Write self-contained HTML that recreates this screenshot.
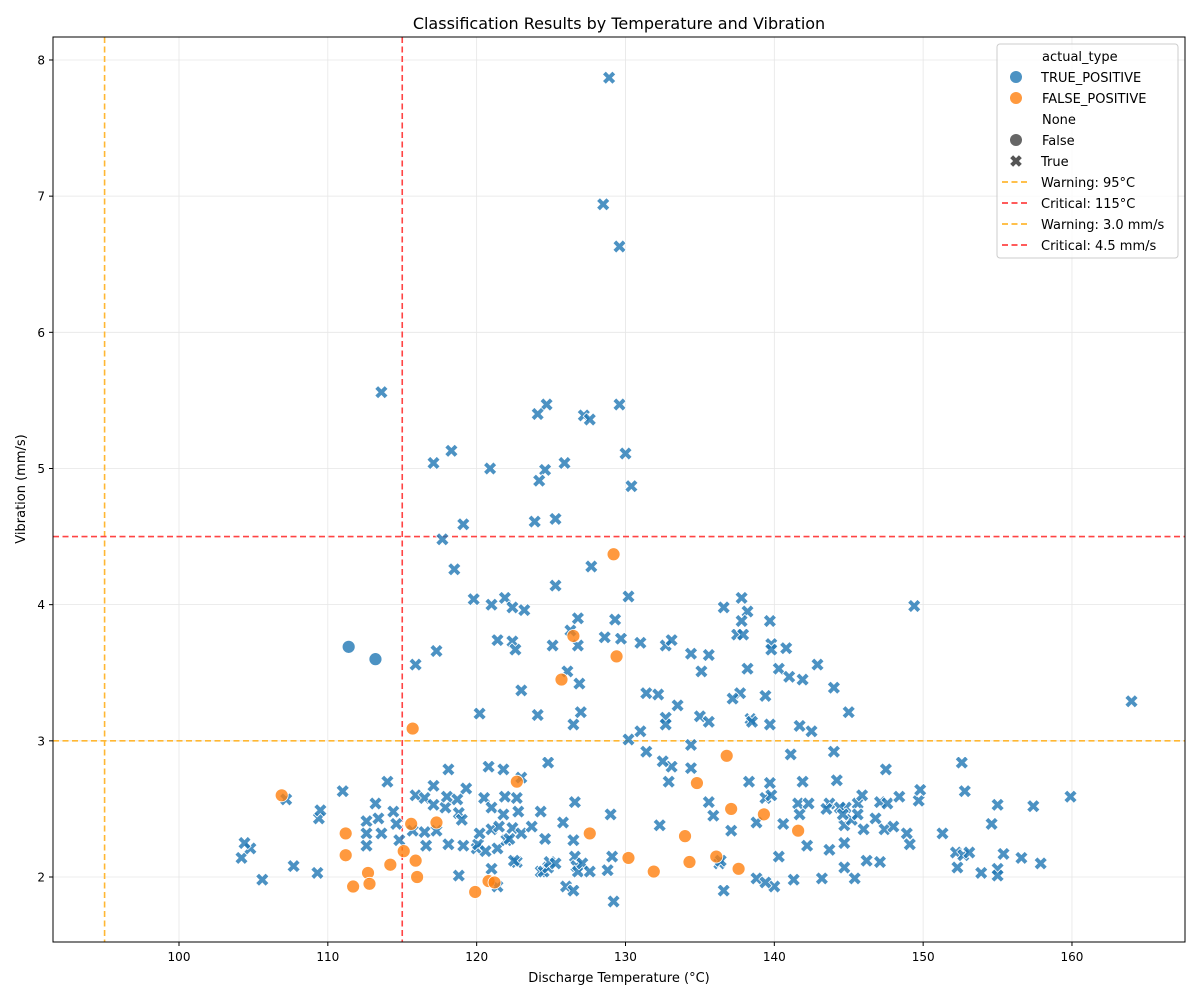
<!DOCTYPE html>
<html><head><meta charset="utf-8"><style>
body{margin:0;background:#fff;font-family:"DejaVu Sans","Liberation Sans",sans-serif;}
svg text{font-family:"DejaVu Sans","Liberation Sans",sans-serif;fill:#000;}
</style></head><body>
<svg id="chart" width="1200" height="1000" viewBox="0 0 1200 1000" xmlns="http://www.w3.org/2000/svg">
<rect width="1200" height="1000" fill="#fff"/>
<text x="619" y="29" font-size="16" text-anchor="middle">Classification Results by Temperature and Vibration</text>
<g id="grid"></g>
<g id="ticks"></g>
<g id="thresholds"></g>
<g id="marks"></g>
<rect x="53" y="37" width="1132" height="905" fill="none" stroke="#000" stroke-width="1"/>
<text x="619" y="982" font-size="13" text-anchor="middle">Discharge Temperature (°C)</text>
<text x="25" y="489" font-size="13" text-anchor="middle" transform="rotate(-90 25 489)">Vibration (mm/s)</text>
<g id="legend">
<rect x="997" y="44" width="181" height="214" rx="3" fill="#fff" fill-opacity="0.8" stroke="#ccc"/>
<text x="1042" y="61" font-size="13">actual_type</text>
<circle cx="1016" cy="77" r="6" fill="#1f77b4" fill-opacity="0.8"/>
<text x="1041" y="82" font-size="13">TRUE_POSITIVE</text>
<circle cx="1016" cy="98" r="6" fill="#ff7f0e" fill-opacity="0.8"/>
<text x="1042" y="103" font-size="13">FALSE_POSITIVE</text>
<text x="1042" y="124" font-size="13">None</text>
<circle cx="1016" cy="140" r="6" fill="#555" fill-opacity="0.9"/>
<text x="1042" y="145" font-size="13">False</text>
<path id="legX" fill="#555"/>
<text x="1041" y="166" font-size="13">True</text>
<line x1="1002" y1="182" x2="1030" y2="182" stroke="#ffb733" stroke-width="1.8" stroke-dasharray="6,3.5"/>
<text x="1041" y="187" font-size="13">Warning: 95°C</text>
<line x1="1002" y1="203" x2="1030" y2="203" stroke="#ff4444" stroke-width="1.8" stroke-dasharray="6,3.5"/>
<text x="1041" y="208" font-size="13">Critical: 115°C</text>
<line x1="1002" y1="224" x2="1030" y2="224" stroke="#ffb733" stroke-width="1.8" stroke-dasharray="6,3.5"/>
<text x="1041" y="229" font-size="13">Warning: 3.0 mm/s</text>
<line x1="1002" y1="245" x2="1030" y2="245" stroke="#ff4444" stroke-width="1.8" stroke-dasharray="6,3.5"/>
<text x="1041" y="250" font-size="13">Critical: 4.5 mm/s</text>
</g>
</svg>
<script>
const xTicks=[100,110,120,130,140,150,160];
const yTicks=[2,3,4,5,6,7,8];
const warnTemp=95, critTemp=115, warnVib=3.0, critVib=4.5;
const tpCircleX=[111.4,113.2];
const tpCircleY=[3.69,3.60];
const fpX=[106.9,111.2,111.2,111.7,112.7,112.8,114.2,115.1,115.6,115.7,115.9,116.0,117.3,119.9,120.8,121.2,122.7,125.7,126.5,127.6,129.2,129.4,130.2,131.9,134.0,134.3,134.8,136.1,136.8,137.1,137.6,139.3,141.6];
const fpY=[2.60,2.32,2.16,1.93,2.03,1.95,2.09,2.19,2.39,3.09,2.12,2.00,2.40,1.89,1.97,1.96,2.70,3.45,3.77,2.32,4.37,3.62,2.14,2.04,2.30,2.11,2.69,2.15,2.89,2.50,2.06,2.46,2.34];
const tpX=[128.9,128.5,129.6,113.6,129.6,124.7,127.2,127.6,124.1,130.0,117.1,118.3,120.9,125.9,124.6,124.2,130.4,119.1,125.3,123.9,117.7,118.5,127.7,125.3,130.2,119.8,121.9,121.0,122.4,123.2,115.9,117.3,121.4,122.4,122.6,126.3,126.8,128.6,129.7,129.3,131.0,125.1,126.8,132.7,133.1,136.6,137.8,138.2,137.8,137.5,137.9,135.6,134.4,135.1,139.7,139.8,139.8,140.8,140.3,141.0,141.9,142.9,138.2,137.7,139.4,137.2,131.4,132.2,133.5,135.0,135.6,132.7,132.7,131.0,134.4,130.2,131.4,126.1,126.9,123.0,124.1,120.2,124.8,120.8,121.8,123.0,118.1,117.1,114.0,111.0,109.4,107.7,105.6,104.2,104.8,104.4,107.2,109.3,112.6,112.6,112.6,113.4,113.6,113.2,114.4,114.6,114.8,115.7,115.9,116.5,117.1,116.5,116.6,117.3,117.9,118.0,118.1,118.7,118.8,119.0,119.3,118.8,119.1,120.0,120.1,120.5,120.2,120.6,121.0,121.0,121.4,121.5,121.0,121.4,121.8,122.0,122.2,121.9,122.4,122.7,122.8,123.0,122.7,122.5,123.7,124.3,124.3,124.6,124.5,124.8,124.9,125.3,125.8,126.0,126.5,126.6,126.7,126.8,126.6,127.1,127.6,128.8,129.0,129.2,129.1,126.5,126.5,127.0,132.3,132.9,133.1,135.6,135.9,136.3,136.4,136.6,137.1,138.3,138.4,138.5,138.8,139.4,139.7,139.8,139.7,140.0,140.3,140.6,138.8,139.4,141.3,141.1,141.6,141.7,141.9,142.3,142.5,141.7,142.2,143.7,144.0,144.0,143.2,143.7,144.2,144.7,144.7,144.7,144.8,145.0,145.4,145.6,146.2,146.0,147.1,147.5,147.4,147.6,147.1,148.4,148.9,149.1,149.4,149.7,149.8,151.3,152.2,152.3,152.6,152.8,152.7,153.1,154.6,153.9,155.0,155.0,155.4,157.4,155.0,156.6,157.9,164.0,159.9,109.5,144.4,145.9,146.8,148.0,145.2,145.6,143.5,144.6,134.4,132.5];
const tpY=[7.87,6.94,6.63,5.56,5.47,5.47,5.39,5.36,5.40,5.11,5.04,5.13,5.00,5.04,4.99,4.91,4.87,4.59,4.63,4.61,4.48,4.26,4.28,4.14,4.06,4.04,4.05,4.00,3.98,3.96,3.56,3.66,3.74,3.73,3.67,3.81,3.90,3.76,3.75,3.89,3.72,3.70,3.70,3.70,3.74,3.98,4.05,3.95,3.88,3.78,3.78,3.63,3.64,3.51,3.88,3.71,3.67,3.68,3.53,3.47,3.45,3.56,3.53,3.35,3.33,3.31,3.35,3.34,3.26,3.18,3.14,3.17,3.12,3.07,2.97,3.01,2.92,3.51,3.42,3.37,3.19,3.20,2.84,2.81,2.79,2.73,2.79,2.67,2.70,2.63,2.43,2.08,1.98,2.14,2.21,2.25,2.57,2.03,2.41,2.32,2.23,2.43,2.32,2.54,2.48,2.39,2.27,2.34,2.60,2.58,2.53,2.33,2.23,2.34,2.51,2.59,2.24,2.57,2.47,2.42,2.65,2.01,2.23,2.21,2.24,2.58,2.32,2.19,2.51,2.35,2.21,2.37,2.06,1.93,2.46,2.27,2.28,2.59,2.36,2.58,2.48,2.32,2.11,2.12,2.37,2.48,2.04,2.28,2.04,2.07,2.11,2.10,2.40,1.93,1.90,2.15,2.08,2.04,2.55,2.10,2.04,2.05,2.46,1.82,2.15,2.27,3.12,3.21,2.38,2.70,2.81,2.55,2.45,2.10,2.12,1.90,2.34,2.70,3.16,3.14,2.40,2.58,2.69,2.60,3.12,1.93,2.15,2.39,1.99,1.96,1.98,2.90,2.54,2.46,2.70,2.54,3.07,3.11,2.23,2.54,2.92,3.39,1.99,2.20,2.71,2.38,2.25,2.07,2.51,3.21,1.99,2.54,2.12,2.35,2.55,2.79,2.35,2.54,2.11,2.59,2.32,2.24,3.99,2.56,2.64,2.32,2.18,2.07,2.84,2.63,2.16,2.18,2.39,2.03,2.06,2.01,2.17,2.52,2.53,2.14,2.10,3.29,2.59,2.49,2.51,2.60,2.43,2.37,2.42,2.46,2.50,2.46,2.80,2.85];

const X0=53,X1=1185,Y0=37,Y1=942;
function xs(v){return 179+(v-100)*14.883;}
function ys(v){return 877-(v-2)*136.17;}
const NS="http://www.w3.org/2000/svg";
function mk(tag,parent){const e=document.createElementNS(NS,tag);parent.appendChild(e);return e;}
const grid=document.getElementById('grid'),ticks=document.getElementById('ticks'),thr=document.getElementById('thresholds'),marks=document.getElementById('marks');
xTicks.forEach(t=>{const x=xs(t);
 const g=mk('line',grid);g.setAttribute('x1',x);g.setAttribute('x2',x);g.setAttribute('y1',Y0);g.setAttribute('y2',Y1);g.setAttribute('stroke','#e6e6e6');g.setAttribute('stroke-width','0.8');
 
 
 const tk=mk('line',ticks);tk.setAttribute('x1',x);tk.setAttribute('x2',x);tk.setAttribute('y1',Y1);tk.setAttribute('y2',Y1+4);tk.setAttribute('stroke','#000');
 
 
 const tx=mk('text',ticks);tx.setAttribute('x',x);tx.setAttribute('y',Y1+19);tx.setAttribute('font-size','12');tx.setAttribute('text-anchor','middle');tx.textContent=t;
 
 
});
yTicks.forEach(t=>{const y=ys(t);
 const g=mk('line',grid);g.setAttribute('x1',X0);g.setAttribute('x2',X1);g.setAttribute('y1',y);g.setAttribute('y2',y);g.setAttribute('stroke','#e6e6e6');g.setAttribute('stroke-width','0.8');
 
 
 const tk=mk('line',ticks);tk.setAttribute('x1',X0-4);tk.setAttribute('x2',X0);tk.setAttribute('y1',y);tk.setAttribute('y2',y);tk.setAttribute('stroke','#000');
 
 
 const tx=mk('text',ticks);tx.setAttribute('x',X0-8);tx.setAttribute('y',y+4.5);tx.setAttribute('font-size','12');tx.setAttribute('text-anchor','end');tx.textContent=t;
 
 
});
function vline(v,c,name){const l=mk('line',thr);l.setAttribute('x1',xs(v));l.setAttribute('x2',xs(v));l.setAttribute('y1',Y0);l.setAttribute('y2',Y1);l.setAttribute('stroke',c);l.setAttribute('stroke-width','1.6');l.setAttribute('stroke-dasharray','6,3.5');
 
 }
function hline(v,c,name){const l=mk('line',thr);l.setAttribute('x1',X0);l.setAttribute('x2',X1);l.setAttribute('y1',ys(v));l.setAttribute('y2',ys(v));l.setAttribute('stroke',c);l.setAttribute('stroke-width','1.6');l.setAttribute('stroke-dasharray','6,3.5');
 
 }
vline(warnTemp,'#ffb733','warning-temp-line');
vline(critTemp,'#ff4444','critical-temp-line');
hline(warnVib,'#ffb733','warning-vibration-line');
hline(critVib,'#ff4444','critical-vibration-line');

function xPath(cx,cy,s){const a=s*0.5,b=s;
 const p=[[0,-a],[b-a,-b],[b,-b+a],[a,0],[b,b-a],[b-a,b],[0,a],[-b+a,b],[-b,b-a],[-a,0],[-b,-b+a],[-b+a,-b]];
 return 'M'+p.map(q=>(cx+q[0]).toFixed(1)+','+(cy+q[1]).toFixed(1)).join('L')+'Z';}
document.getElementById('legX').setAttribute('d',xPath(1016,161,5.8));

for(let i=0;i<tpX.length;i++){const p=mk('path',marks);p.setAttribute('d',xPath(xs(tpX[i]),ys(tpY[i]),6.6));
 p.setAttribute('fill','#1f77b4');p.setAttribute('fill-opacity','0.8');p.setAttribute('stroke','#fff');p.setAttribute('stroke-width','0.8');
 
 }
for(let i=0;i<tpCircleX.length;i++){const c=mk('circle',marks);c.setAttribute('cx',xs(tpCircleX[i]));c.setAttribute('cy',ys(tpCircleY[i]));c.setAttribute('r','6.5');
 c.setAttribute('fill','#1f77b4');c.setAttribute('fill-opacity','0.8');c.setAttribute('stroke','#fff');c.setAttribute('stroke-width','0.8');
 
 }
for(let i=0;i<fpX.length;i++){const c=mk('circle',marks);c.setAttribute('cx',xs(fpX[i]));c.setAttribute('cy',ys(fpY[i]));c.setAttribute('r','6.5');
 c.setAttribute('fill','#ff7f0e');c.setAttribute('fill-opacity','0.8');c.setAttribute('stroke','#fff');c.setAttribute('stroke-width','0.8');
 
 }
</script>
</body></html>
